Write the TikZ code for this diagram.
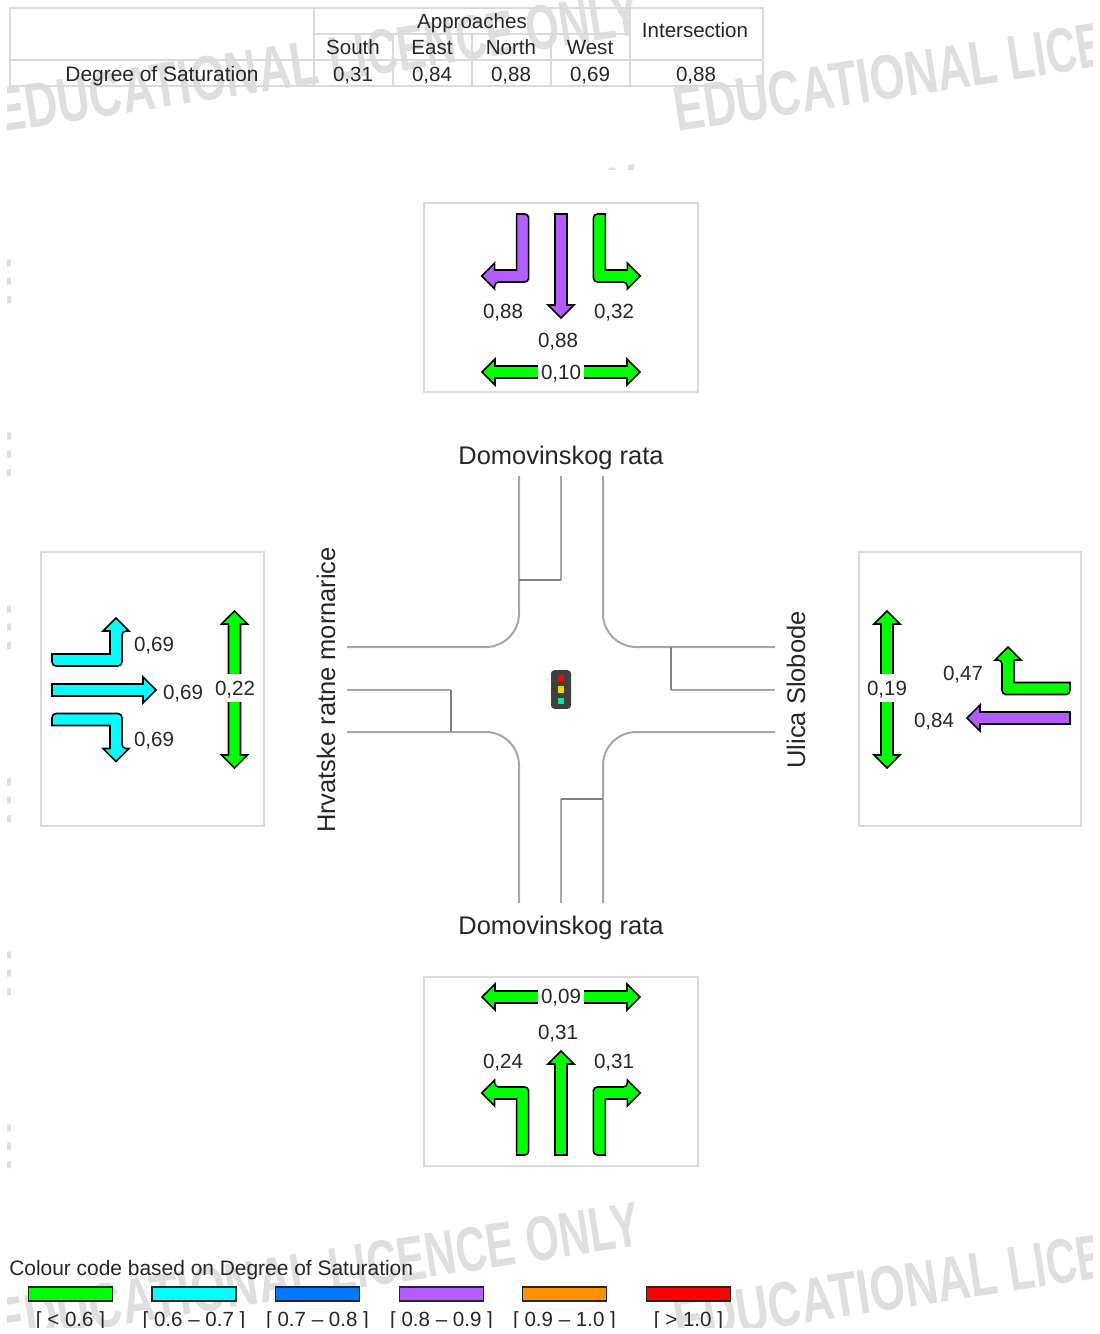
\documentclass[tikz,border=0pt]{standalone}
\usepackage{fontspec}
\setmainfont{Liberation Sans}
\usetikzlibrary{positioning, arrows.meta}

\definecolor{lvlgreen}{HTML}{00FF00}
\definecolor{lvlcyan}{HTML}{00FFFF}
\definecolor{lvlblue}{HTML}{0078FF}
\definecolor{lvlpurple}{HTML}{B35CFF}
\definecolor{lvlorange}{HTML}{FF9000}
\definecolor{lvlred}{HTML}{FF0000}
\definecolor{lampyellow}{HTML}{F0D800}
\definecolor{lampgreen}{HTML}{00E89A}
\definecolor{frameline}{HTML}{DADADA}
\definecolor{markgrey}{HTML}{DEDEDE}
\definecolor{inkgrey}{HTML}{262626}

\tikzset{
	lab/.style={inner sep=0pt, text=inkgrey, font=\fontsize{15.4}{18}\selectfont, text height=11pt, text depth=0pt},
	gaplab/.style={lab, fill=white, inner xsep=2.25pt, inner ysep=5pt},
	widelab/.style={lab, font=\fontsize{15.7}{18}\selectfont},
	roadname/.style={inner sep=0pt, text=inkgrey, font=\fontsize{19.1}{22}\selectfont, text height=13.7pt, text depth=0pt},
	panel/.style={draw=frameline, line width=1.1pt, rectangle},
	road/.style={draw=black!35, line width=1.5pt, rounded corners=25pt},
	stopline/.style={draw=black!50, line width=2.2pt},
	lvl/.style={draw=black, line width=1.15pt, fill=#1},
	swatch/.style={draw=inkgrey, line width=1.2pt, fill=#1, rectangle, minimum width=63pt, minimum height=10.5pt, inner sep=0pt},
	pics/strarrow/.style={code={
		\path[pic actions] (-6,0) -- (6,0) -- (6,{#1-13}) -- (13,{#1-13}) -- (0,#1) -- (-13,{#1-13}) -- (-6,{#1-13}) -- cycle;
	}},
	pics/bentarrow/.style 2 args={code={
		\path[pic actions, rounded corners=3pt] (-6,0) -- (6,0) -- (6,{#1+6}) -- ({-#2+13},{#1+6})
			[sharp corners] -- ({-#2+13},{#1+13}) -- ({-#2},#1) -- ({-#2+13},{#1-13}) -- ({-#2+13},{#1-6}) -- (-6,{#1-6}) -- cycle;
	}},
	pics/twoway/.style={code={
		\path[pic actions] ({-#1},0) -- ({-#1+13},-13) -- ({-#1+13},-6) -- ({#1-13},-6) -- ({#1-13},-13) -- (#1,0)
			-- ({#1-13},13) -- ({#1-13},6) -- ({-#1+13},6) -- ({-#1+13},13) -- cycle;
	}},
}

\begin{document}
\begin{tikzpicture}[x=0.75pt, y=-0.75pt]
	\useasboundingbox (0,0) rectangle (1099,1334);
	
	% Watermark bands
	\begin{scope}
		\clip (7,0) rectangle (1092,170) (7,170) rectangle (10,1190) (7,1190) rectangle (1092,1328);
		\foreach \k in {0,...,7}
			\foreach \col/\base in {-2/133,677/132}
				\node [anchor=base west, inner sep=0pt, rotate=8.75, text=markgrey] (mark\k-\col) at (\col,{\base+173*\k})
					{\resizebox{245pt}{33pt}{\bfseries EDUCATIONAL}\hspace{9pt}\resizebox{235pt}{33pt}{\bfseries LICENCE ONLY}};
	\end{scope}
	
	% Table
	\draw[frameline, line width=1.1pt] (10,8) rectangle (763,86);
	\draw[frameline, line width=1.1pt] (10,60) -- (763,60);
	\draw[frameline, line width=1.1pt] (314,34) -- (630,34);
	\draw[frameline, line width=1.1pt] (314,8) -- (314,86);
	\draw[frameline, line width=1.1pt] (630,8) -- (630,86);
	\foreach \x in {393,472,551}
		\draw[frameline, line width=1.1pt] (\x,34) -- (\x,86);
	\node [lab] (approaches) at (472,21) {Approaches};
	\node [lab] (intersection) at (695,30) {Intersection};
	\node [widelab] (degree) at (162,74) {Degree of Saturation};
	\node [lab] (total) at (696,74) {0,88};
	\foreach \x/\appr/\val in {353/South/{0,31},432/East/{0,84},511/North/{0,88},590/West/{0,69}} {
		\node [lab] (head\appr) at (\x,47) {\appr};
		\node [lab] (val\appr) at (\x,74) {\val};
	}
	
	% Panels
	\node [panel, minimum width=205.5pt, minimum height=141.75pt] (north) at (561,297.5) {};
	\node [panel, minimum width=205.5pt, minimum height=141.75pt] (south) at (561,1071.5) {};
	\node [panel, minimum width=167.25pt, minimum height=205.5pt] (west) at (152.5,689) {};
	\node [panel, minimum width=166.5pt, minimum height=205.5pt] (east) at (970,689) {};
	
	% North approach
	\pic [lvl=lvlpurple] at (522.7,214) {bentarrow={62}{41}};
	\pic [lvl=lvlpurple] at (561,214) {strarrow=104};
	\pic [lvl=lvlgreen, xscale=-1] at (599.3,214) {bentarrow={62}{41}};
	\pic [lvl=lvlgreen] at (561,372) {twoway=79};
	\node [lab] (northL) at (503,311) {0,88};
	\node [lab] (northT) at (558,340) {0,88};
	\node [lab] (northR) at (614,311) {0,32};
	\node [gaplab] (northP) at (561,372) {0,10};
	
	% South approach
	\pic [lvl=lvlgreen, yscale=-1] at (522.7,1155) {bentarrow={62}{41}};
	\pic [lvl=lvlgreen, rotate=180] at (561,1155) {strarrow=104};
	\pic [lvl=lvlgreen, rotate=180] at (599.3,1155) {bentarrow={62}{41}};
	\pic [lvl=lvlgreen] at (561,997) {twoway=79};
	\node [gaplab] (southP) at (561,996) {0,09};
	\node [lab] (southT) at (558,1032) {0,31};
	\node [lab] (southL) at (503,1061) {0,24};
	\node [lab] (southR) at (614,1061) {0,31};
	
	% West approach
	\pic [lvl=lvlcyan, rotate=90, xscale=-1] at (52,660) {bentarrow={64}{42}};
	\pic [lvl=lvlcyan, rotate=90] at (52,690) {strarrow=104};
	\pic [lvl=lvlcyan, rotate=90] at (52,719.5) {bentarrow={64}{42}};
	\pic [lvl=lvlgreen, rotate=90] at (234.5,689.5) {twoway=78.5};
	\node [lab] (westL) at (154,644) {0,69};
	\node [lab] (westT) at (183,692) {0,69};
	\node [lab] (westR) at (154,739) {0,69};
	\node [gaplab] (westP) at (235,688) {0,22};
	
	% East approach
	\pic [lvl=lvlgreen, rotate=-90] at (1070,688.5) {bentarrow={62}{41.5}};
	\pic [lvl=lvlpurple, rotate=-90] at (1070,718) {strarrow=103};
	\pic [lvl=lvlgreen, rotate=90] at (887,689.5) {twoway=78.5};
	\node [lab] (eastL) at (963,673) {0,47};
	\node [lab] (eastT) at (934,720) {0,84};
	\node [gaplab] (eastP) at (887,688) {0,19};
	
	% Intersection
	\draw[road] (519,476) -- (519,647) -- (347,647);
	\draw[road] (603,476) -- (603,647) -- (775,647);
	\draw[road] (347,732) -- (519,732) -- (519,903);
	\draw[road] (775,732) -- (603,732) -- (603,903);
	\draw[road] (561,476) -- (561,580);
	\draw[road] (561,903) -- (561,799);
	\draw[road] (347,690) -- (451,690);
	\draw[road] (775,690) -- (671,690);
	\draw[stopline] (561,580) -- (519,580);
	\draw[stopline] (561,799) -- (603,799);
	\draw[stopline] (451,690) -- (451,732);
	\draw[stopline] (671,690) -- (671,647);
	\node [roadname] (nameN) at (561,455) {Domovinskog rata};
	\node [roadname] (nameS) at (561,925) {Domovinskog rata};
	\node [roadname, rotate=90] (nameW) at (326,690) {Hrvatske ratne mornarice};
	\node [roadname, rotate=90] (nameE) at (796,690) {Ulica Slobode};
	
	% Signal head
	\node [rectangle, fill=black!75, rounded corners=2.5pt, minimum width=15pt, minimum height=29pt, inner sep=0pt] (signal) at (561,689.5) {};
	\foreach \y/\lamp in {678/lvlred,689.5/lampyellow,701/lampgreen}
		\node [rectangle, fill=\lamp, minimum size=5.2pt, inner sep=0pt] (\lamp) at (561,\y) {};
	
	% Legend
	\node [widelab, anchor=west] (legend) at (9,1268) {Colour code based on Degree of Saturation};
	\foreach \x/\lvlcol/\rng in {70.5/lvlgreen/{[ < 0.6 ]},194/lvlcyan/{[ 0.6 – 0.7 ]},317.5/lvlblue/{[ 0.7 – 0.8 ]},441.5/lvlpurple/{[ 0.8 – 0.9 ]},564.5/lvlorange/{[ 0.9 – 1.0 ]},688.5/lvlred/{[ > 1.0 ]}} {
		\node [swatch=\lvlcol] (sw\lvlcol) at (\x,1294) {};
		\node [lab, below=7pt of sw\lvlcol] (rng\lvlcol) {\rng};
	}
	\fill[white] (0,1328) rectangle (1099,1334);
\end{tikzpicture}
\end{document}
